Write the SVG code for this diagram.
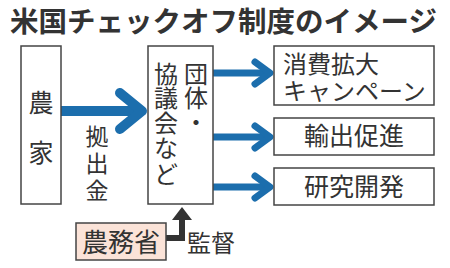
<svg xmlns="http://www.w3.org/2000/svg" width="450" height="268" viewBox="0 0 450 268">
  <style>
    .t { font-family: "Noto Sans CJK JP", "Noto Sans", sans-serif; fill: #333; }
    .box { fill: #fff; stroke: #444; stroke-width: 1.5; }
    .blue { fill: none; stroke: #1c6ead; stroke-linecap: round; stroke-linejoin: round; }
    .dark { fill: none; stroke: #333; }
  </style>
  <rect width="450" height="268" fill="#fff"/>
  <g id="title">
    <text class="t" x="10" y="32" font-size="28.5" font-weight="bold">米国チェックオフ制度のイメージ</text>
  </g>
  <g id="connectors">
    <path class="blue" d="M61 111 H140" stroke-width="10" stroke-linecap="butt"/>
    <path class="blue" d="M120 93 L142 111 L120 129" stroke-width="10"/>
    <path class="blue" d="M214 73 H268" stroke-width="7" stroke-linecap="butt"/>
    <path class="blue" d="M255 62 L270 73 L255 84" stroke-width="7"/>
    <path class="blue" d="M214 137 H268" stroke-width="7" stroke-linecap="butt"/>
    <path class="blue" d="M255 126 L270 137 L255 148" stroke-width="7"/>
    <path class="blue" d="M214 187 H268" stroke-width="7" stroke-linecap="butt"/>
    <path class="blue" d="M255 176 L270 187 L255 198" stroke-width="7"/>
    <path class="dark" d="M166 238 H182 V219" stroke-width="6"/>
    <path d="M172 220 L182 207 L192 220 Z" fill="#333"/>
  </g>
  <g id="farmers">
    <rect class="box" x="21" y="46" width="40" height="158"/>
    <text class="t" x="41" y="112" font-size="25" text-anchor="middle">農</text>
    <text class="t" x="41" y="162" font-size="25" text-anchor="middle">家</text>
  </g>
  <g id="contribution-label">
    <text class="t" x="97" y="145" font-size="23" text-anchor="middle">拠</text>
    <text class="t" x="97" y="172" font-size="23" text-anchor="middle">出</text>
    <text class="t" x="97" y="199" font-size="23" text-anchor="middle">金</text>
  </g>
  <g id="organizations">
    <rect class="box" x="148" y="46" width="65" height="158"/>
    <text class="t" x="196" y="83" font-size="24" text-anchor="middle">団</text>
    <text class="t" x="196" y="107" font-size="24" text-anchor="middle">体</text>
    <text class="t" x="196" y="131" font-size="24" text-anchor="middle">・</text>
    <text class="t" x="166" y="83" font-size="24" text-anchor="middle">協</text>
    <text class="t" x="166" y="107" font-size="24" text-anchor="middle">議</text>
    <text class="t" x="166" y="132" font-size="24" text-anchor="middle">会</text>
    <text class="t" x="166" y="157" font-size="24" text-anchor="middle">な</text>
    <text class="t" x="166" y="183" font-size="24" text-anchor="middle">ど</text>
  </g>
  <g id="campaign">
    <rect class="box" x="274" y="46" width="160" height="59"/>
    <text class="t" x="283" y="73" font-size="24">消費拡大</text>
    <text class="t" x="283" y="100" font-size="24">キャンペーン</text>
  </g>
  <g id="export">
    <rect class="box" x="274" y="118" width="160" height="37"/>
    <text class="t" x="354" y="145" font-size="25" text-anchor="middle">輸出促進</text>
  </g>
  <g id="research">
    <rect class="box" x="274" y="168" width="160" height="37"/>
    <text class="t" x="354" y="196" font-size="25" text-anchor="middle">研究開発</text>
  </g>
  <g id="ministry">
    <rect x="76" y="223" width="90" height="37" fill="#fbe3d8" stroke="#444" stroke-width="1.5"/>
    <text class="t" x="121" y="252" font-size="26" text-anchor="middle">農務省</text>
  </g>
  <g id="supervision-label">
    <text class="t" x="187" y="252" font-size="24">監督</text>
  </g>
</svg>
